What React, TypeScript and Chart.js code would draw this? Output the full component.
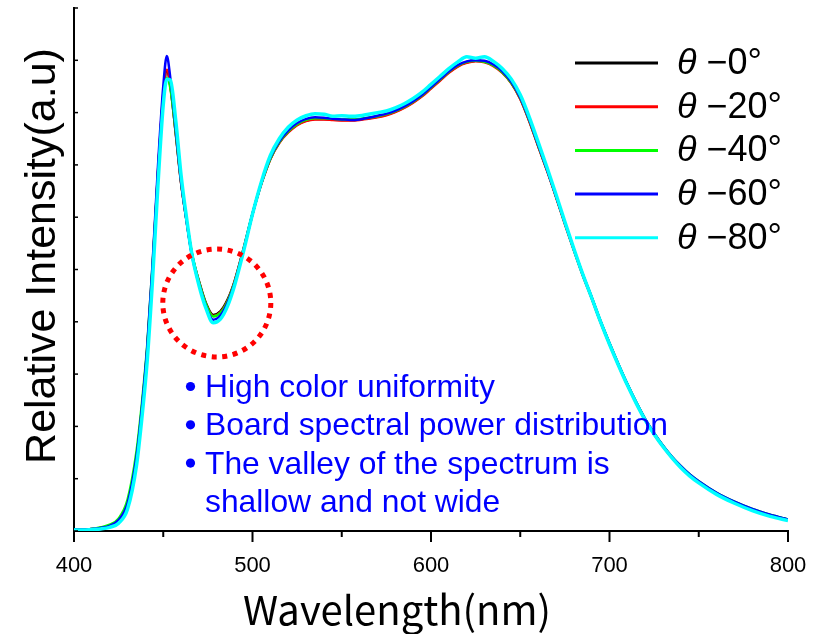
import { useEffect, useRef } from 'react';
import { Chart, registerables } from 'chart.js';

Chart.register(...registerables);

// Wavelength samples (nm)
const wavelengths = [
  400, 405, 410, 415, 420, 425, 430, 435, 438, 441, 444, 447, 450, 452, 454, 457, 460, 463, 466,
  470, 474, 478, 482, 486, 490, 495, 500, 505, 510, 515, 520, 525, 530, 535, 540, 545, 550, 555,
  560, 565, 570, 575, 580, 585, 590, 595, 600, 605, 610, 615, 620, 625, 630, 635, 640, 645, 650,
  655, 660, 665, 670, 675, 680, 685, 690, 695, 700, 705, 710, 715, 720, 725, 730, 735, 740, 745,
  750, 760, 770, 780, 790, 800,
];

// Relative intensity at each viewing angle
const theta0 = [
  0.003, 0.003, 0.004, 0.006, 0.010, 0.020, 0.052, 0.140, 0.230, 0.345, 0.500, 0.680, 0.830, 0.880, 0.850, 0.760, 0.665, 0.595, 0.530,
  0.478, 0.435, 0.413, 0.420, 0.442, 0.478, 0.540, 0.607, 0.665, 0.712, 0.743, 0.763, 0.777, 0.785, 0.788, 0.788, 0.787, 0.786, 0.786,
  0.787, 0.789, 0.792, 0.796, 0.802, 0.810, 0.820, 0.832, 0.847, 0.862, 0.877, 0.889, 0.896, 0.899, 0.897, 0.890, 0.877, 0.857, 0.827,
  0.785, 0.737, 0.690, 0.640, 0.588, 0.538, 0.490, 0.446, 0.400, 0.358, 0.318, 0.280, 0.245, 0.213, 0.186, 0.162, 0.141, 0.123, 0.107,
  0.094, 0.072, 0.055, 0.041, 0.030, 0.022,
];
const theta20 = [
  0.003, 0.003, 0.004, 0.006, 0.010, 0.021, 0.054, 0.143, 0.234, 0.348, 0.503, 0.684, 0.836, 0.882, 0.852, 0.762, 0.666, 0.594, 0.531,
  0.476, 0.433, 0.411, 0.418, 0.440, 0.477, 0.539, 0.606, 0.664, 0.711, 0.742, 0.762, 0.776, 0.784, 0.787, 0.787, 0.786, 0.785, 0.785,
  0.786, 0.788, 0.791, 0.795, 0.801, 0.809, 0.819, 0.831, 0.846, 0.861, 0.876, 0.888, 0.895, 0.898, 0.896, 0.889, 0.876, 0.856, 0.826,
  0.784, 0.736, 0.689, 0.639, 0.587, 0.537, 0.489, 0.445, 0.399, 0.357, 0.317, 0.279, 0.244, 0.212, 0.185, 0.161, 0.140, 0.122, 0.106,
  0.093, 0.071, 0.054, 0.040, 0.030, 0.021,
];
const theta40 = [
  0.003, 0.003, 0.004, 0.007, 0.012, 0.024, 0.060, 0.152, 0.243, 0.355, 0.508, 0.683, 0.828, 0.866, 0.846, 0.762, 0.668, 0.596, 0.532,
  0.476, 0.433, 0.410, 0.417, 0.439, 0.476, 0.538, 0.606, 0.665, 0.712, 0.743, 0.764, 0.778, 0.786, 0.789, 0.789, 0.788, 0.787, 0.787,
  0.788, 0.790, 0.793, 0.797, 0.803, 0.811, 0.821, 0.833, 0.848, 0.863, 0.878, 0.890, 0.897, 0.899, 0.897, 0.890, 0.877, 0.857, 0.828,
  0.786, 0.738, 0.691, 0.641, 0.589, 0.539, 0.491, 0.447, 0.401, 0.359, 0.319, 0.281, 0.246, 0.214, 0.187, 0.163, 0.142, 0.124, 0.108,
  0.095, 0.073, 0.056, 0.042, 0.031, 0.022,
];
const theta60 = [
  0.003, 0.003, 0.004, 0.006, 0.010, 0.021, 0.053, 0.142, 0.235, 0.350, 0.510, 0.695, 0.850, 0.908, 0.865, 0.768, 0.668, 0.594, 0.528,
  0.472, 0.428, 0.404, 0.412, 0.436, 0.474, 0.537, 0.606, 0.666, 0.714, 0.745, 0.766, 0.780, 0.788, 0.791, 0.790, 0.788, 0.787, 0.786,
  0.787, 0.790, 0.794, 0.798, 0.804, 0.812, 0.822, 0.834, 0.849, 0.864, 0.879, 0.891, 0.898, 0.900, 0.899, 0.892, 0.879, 0.859, 0.829,
  0.787, 0.739, 0.691, 0.641, 0.589, 0.539, 0.491, 0.447, 0.401, 0.359, 0.319, 0.281, 0.246, 0.214, 0.187, 0.163, 0.142, 0.124, 0.108,
  0.095, 0.073, 0.056, 0.042, 0.031, 0.022,
];
const theta80 = [
  0.002, 0.002, 0.003, 0.004, 0.007, 0.015, 0.042, 0.125, 0.215, 0.325, 0.480, 0.660, 0.815, 0.864, 0.862, 0.785, 0.680, 0.600, 0.530,
  0.470, 0.425, 0.398, 0.405, 0.430, 0.470, 0.535, 0.606, 0.668, 0.718, 0.750, 0.772, 0.786, 0.794, 0.798, 0.797, 0.793, 0.794, 0.793,
  0.794, 0.797, 0.800, 0.803, 0.809, 0.817, 0.827, 0.839, 0.854, 0.869, 0.884, 0.897, 0.907, 0.904, 0.907, 0.898, 0.884, 0.864, 0.834,
  0.792, 0.744, 0.695, 0.644, 0.591, 0.540, 0.491, 0.446, 0.400, 0.357, 0.317, 0.279, 0.244, 0.212, 0.185, 0.161, 0.140, 0.121, 0.105,
  0.092, 0.070, 0.053, 0.039, 0.028, 0.020,
];

const seriesValues = [theta0, theta20, theta40, theta60, theta80];
const seriesLabels = ['θ −0°', 'θ −20°', 'θ −40°', 'θ −60°', 'θ −80°'];
const seriesColors = ['#000000', '#FF0000', '#00FF00', '#0000FF', '#00FFFF'];
const seriesWidths = [2.5, 2.5, 2.5, 2.5, 3.5];

// X axis range and tick spacing (labels only on the hundreds)
const xMin = 400;
const xMax = 800;
const xStep = 50;
const xLabelEvery = 100;

// Y axis range and tick spacing
const yMin = 0;
const yMax = 1;
const yStep = 0.1;

const xTitle = 'Wavelength(nm)';
const yTitle = 'Relative Intensity(a.u)';

const notes = [
  'High color uniformity',
  'Board spectral power distribution',
  'The valley of the spectrum is',
  'shallow and not wide',
];
const noteBullets = [true, true, true, false];

// Highlighted valley region (center in data units)
const valleyCenter = { x: 480, y: 0.436 };

const SANS = '"Liberation Sans", Arial, sans-serif';

const axisTicksPlugin = {
  id: 'axisTicks',
  afterDraw(chart: any) {
    const { ctx } = chart;
    const xs = chart.scales.x;
    const ys = chart.scales.y;
    ctx.save();
    ctx.strokeStyle = '#000';
    ctx.lineWidth = 2;
    xs.ticks.forEach((t: any) => {
      const px = xs.getPixelForValue(t.value);
      const len = t.value % xLabelEvery === 0 ? 11 : 6;
      ctx.beginPath();
      ctx.moveTo(px, xs.top);
      ctx.lineTo(px, xs.top + len);
      ctx.stroke();
    });
    ctx.lineWidth = 1.5;
    ys.ticks.forEach((t: any) => {
      const py = ys.getPixelForValue(t.value);
      ctx.beginPath();
      ctx.moveTo(ys.right, py);
      ctx.lineTo(ys.right + 4, py);
      ctx.stroke();
    });
    ctx.restore();
  },
};

const axisTitlesPlugin = {
  id: 'axisTitles',
  afterDraw(chart: any) {
    const { ctx, chartArea } = chart;
    ctx.save();
    ctx.fillStyle = '#000';
    ctx.textAlign = 'center';
    ctx.textBaseline = 'alphabetic';
    ctx.font = `40px "Noto Sans CJK JP", ${SANS}`;
    ctx.fillText(xTitle, chartArea.left + 323, chartArea.bottom + 94);
    ctx.translate(chartArea.left - 19, chartArea.top + 248);
    ctx.rotate(-Math.PI / 2);
    ctx.font = `43px ${SANS}`;
    ctx.fillText(yTitle, 0, 0);
    ctx.restore();
  },
};

const legendPlugin = {
  id: 'angleLegend',
  afterDraw(chart: any) {
    const { ctx, chartArea } = chart;
    const x0 = chartArea.left + 501;
    const x1 = x0 + 83;
    const tx = x1 + 19;
    const top = chartArea.top + 55;
    const gap = 43.7;
    ctx.save();
    chart.data.datasets.forEach((ds: any, i: number) => {
      const y = top + gap * i;
      ctx.strokeStyle = ds.borderColor;
      ctx.lineWidth = 3;
      ctx.beginPath();
      ctx.moveTo(x0, y);
      ctx.lineTo(x1, y);
      ctx.stroke();
      const label: string = ds.label;
      ctx.fillStyle = '#000';
      ctx.textBaseline = 'middle';
      ctx.textAlign = 'left';
      ctx.font = `italic 36px ${SANS}`;
      const head = label.charAt(0);
      ctx.fillText(head, tx, y + 1);
      const w = ctx.measureText(head).width;
      ctx.font = `36px ${SANS}`;
      ctx.fillText(label.slice(1), tx + w, y + 1);
    });
    ctx.restore();
  },
};

const notesPlugin = {
  id: 'valleyNotes',
  afterDraw(chart: any) {
    const { ctx, chartArea } = chart;
    const xs = chart.scales.x;
    const ys = chart.scales.y;
    ctx.save();
    // dotted circle around the valley between the blue peak and the phosphor band
    ctx.strokeStyle = '#FF0000';
    ctx.lineWidth = 5;
    ctx.setLineDash([5, 5.6]);
    ctx.lineCap = 'butt';
    ctx.beginPath();
    ctx.arc(xs.getPixelForValue(valleyCenter.x), ys.getPixelForValue(valleyCenter.y), 54, 0, Math.PI * 2);
    ctx.stroke();
    ctx.setLineDash([]);

    ctx.fillStyle = '#0000FF';
    ctx.font = `31.8px ${SANS}`;
    ctx.textBaseline = 'alphabetic';
    ctx.textAlign = 'left';
    const bx = chartArea.left + 116.5;
    const tx = chartArea.left + 131;
    const baseY = chartArea.top + 389;
    notes.forEach((line, i) => {
      const y = baseY + i * 38.3;
      if (noteBullets[i]) {
        ctx.beginPath();
        ctx.arc(bx, y - 10.5, 4.6, 0, Math.PI * 2);
        ctx.fill();
      }
      ctx.fillText(line, tx, y);
    });
    ctx.restore();
  },
};

export default function App() {
  const canvasRef = useRef<HTMLCanvasElement | null>(null);

  useEffect(() => {
    if (!canvasRef.current) return;
    const datasets = seriesValues.map((vals, i) => ({
      label: seriesLabels[i],
      data: wavelengths.map((w, j) => ({ x: w, y: vals[j] })),
      borderColor: seriesColors[i],
      backgroundColor: seriesColors[i],
      borderWidth: seriesWidths[i],
      pointRadius: 0,
      fill: false,
      cubicInterpolationMode: 'monotone' as const,
      order: seriesValues.length - 1 - i,
    }));

    const chart = new Chart(canvasRef.current, {
      type: 'line',
      data: { datasets },
      options: {
        animation: false,
        responsive: false,
        devicePixelRatio: 1,
        layout: { padding: { left: 0, top: 8, right: 33, bottom: 0 } },
        plugins: {
          legend: { display: false },
          tooltip: { enabled: false },
        },
        scales: {
          x: {
            type: 'linear',
            min: xMin,
            max: xMax,
            grid: { display: false, drawTicks: false },
            border: { display: true, color: '#000', width: 2 },
            ticks: {
              stepSize: xStep,
              autoSkip: false,
              maxRotation: 0,
              padding: 22,
              color: '#000',
              font: { family: SANS, size: 22 },
              callback: (v: any) => (Number(v) % xLabelEvery === 0 ? String(v) : ''),
            },
            afterFit: (s: any) => {
              s.height = 103;
              s.paddingLeft = 0;
              s.paddingRight = 0;
            },
          },
          y: {
            type: 'linear',
            min: yMin,
            max: yMax,
            grid: { display: false, drawTicks: false },
            border: { display: true, color: '#000', width: 2 },
            ticks: { display: false, stepSize: yStep },
            afterFit: (s: any) => {
              s.width = 74;
              s.paddingTop = 0;
              s.paddingBottom = 0;
            },
          },
        },
      },
      plugins: [axisTicksPlugin, axisTitlesPlugin, legendPlugin, notesPlugin],
    });
    return () => chart.destroy();
  }, []);

  return (
    <div style={{ position: 'fixed', left: 0, top: 0, width: 821, height: 634, background: '#fff' }}>
      <canvas ref={canvasRef} width={821} height={634} style={{ display: 'block' }} />
    </div>
  );
}
